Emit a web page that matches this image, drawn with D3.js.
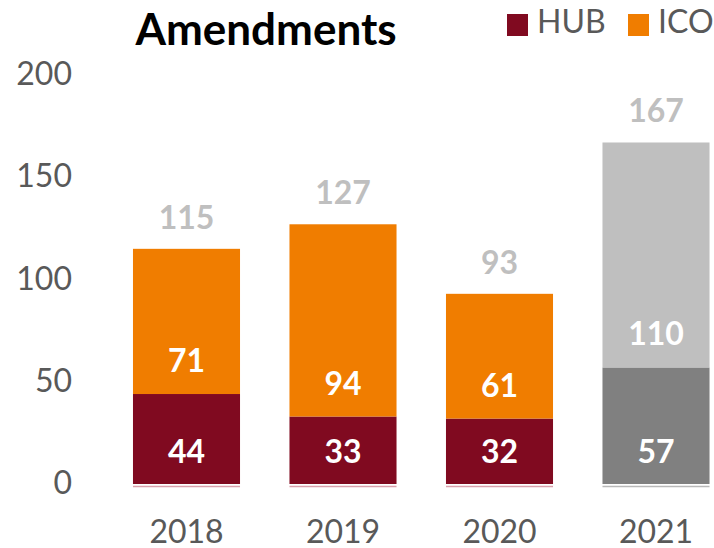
<!DOCTYPE html>
<html>
<head>
<meta charset="utf-8">
<script src="https://cdn.jsdelivr.net/npm/d3@7"></script>
<style>
  body { margin: 0; background: #fff; }
  svg { display: block; font-family: Lato, "Open Sans", sans-serif; }
</style>
</head>
<body>
<div id="chart"></div>
<script>
// chart data
var years = ["2018", "2019", "2020", "2021"];
var hub = [44, 33, 32, 57];
var ico = [71, 94, 61, 110];
var totals = [115, 127, 93, 167];
var yTicks = [0, 50, 100, 150, 200];
var seriesNames = ["HUB", "ICO"];

// 2021 is drawn in greys (forecast)
var colHub = "#800A20", colIco = "#F07D00";
var colHubF = "#808080", colIcoF = "#BFBFBF";

var W = 714, H = 548;
var svg = d3.select("#chart").append("svg")
    .attr("width", W).attr("height", H);

var x = d3.scaleBand().domain(years)
    .range([108.25, 734.25])
    .paddingInner(0.316).paddingOuter(0.158);
var y = d3.scaleLinear().domain([0, 200]).range([484, 75]);

function isF(i) { return years[i] == "2021"; }

// y tick labels
svg.append("g").selectAll("text")
    .data(yTicks).enter().append("text")
    .attr("x", 72)
    .attr("y", function(d) { return y(d) + 10; })
    .attr("text-anchor", "end")
    .attr("font-size", 32)
    .attr("fill", "#595959")
    .text(function(d) { return d; });

// bars
var g = svg.append("g");
years.forEach(function(yr, i) {
    var x0 = x(yr), bw = x.bandwidth();
    g.append("rect")
        .attr("x", x0).attr("width", bw)
        .attr("y", y(hub[i])).attr("height", y(0) - y(hub[i]))
        .attr("fill", isF(i) ? colHubF : colHub);
    g.append("rect")
        .attr("x", x0).attr("width", bw)
        .attr("y", y(hub[i] + ico[i])).attr("height", y(hub[i]) - y(hub[i] + ico[i]))
        .attr("fill", isF(i) ? colIcoF : colIco);
    // thin line under the bar
    g.append("line")
        .attr("x1", x0).attr("x2", x0 + bw)
        .attr("y1", y(0) + 2.5).attr("y2", y(0) + 2.5)
        .attr("stroke", isF(i) ? "#b8b8b8" : "#d9a0ab")
        .attr("stroke-width", 1.5);

    var cx = x0 + bw / 2;
    // value labels, inside base
    g.append("text")
        .attr("x", cx).attr("y", y(0) - 21)
        .attr("text-anchor", "middle").attr("font-size", 32).attr("font-weight", "bold")
        .attr("fill", "#fff").text(hub[i]);
    g.append("text")
        .attr("x", cx).attr("y", y(hub[i]) - 22)
        .attr("text-anchor", "middle").attr("font-size", 32).attr("font-weight", "bold")
        .attr("fill", "#fff").text(ico[i]);
    // totals
    g.append("text")
        .attr("x", cx).attr("y", y(totals[i]) - 20)
        .attr("text-anchor", "middle").attr("font-size", 32).attr("font-weight", "bold")
        .attr("fill", "#BFBFBF").text(totals[i]);
    // year labels
    g.append("text")
        .attr("x", cx).attr("y", 543)
        .attr("text-anchor", "middle").attr("font-size", 32)
        .attr("fill", "#595959").text(yr);
});

// title
svg.append("text")
    .attr("x", 266).attr("y", 45)
    .attr("text-anchor", "middle")
    .attr("font-size", 44).attr("font-weight", "bold")
    .attr("fill", "#000")
    .text("Amendments");

// legend
var leg = svg.append("g");
var legX = [507, 628];
var legC = [colHub, colIco];
seriesNames.forEach(function(n, i) {
    leg.append("rect")
        .attr("x", legX[i]).attr("y", 14)
        .attr("width", 21).attr("height", 22)
        .attr("fill", legC[i]);
    leg.append("text")
        .attr("x", legX[i] + 30).attr("y", 33)
        .attr("font-size", 32).attr("fill", "#595959")
        .text(n);
});
</script>
</body>
</html>
